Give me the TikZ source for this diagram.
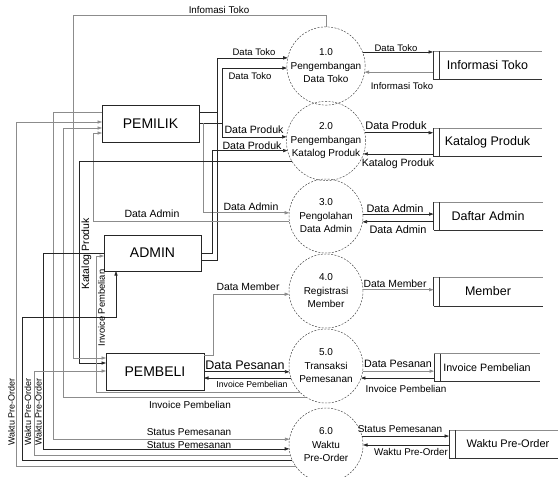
\documentclass[tikz,border=0pt]{standalone}
\usepackage{fontspec}
\setmainfont{Liberation Sans}
\usetikzlibrary{arrows.meta}
\tikzset{
  ent/.style={draw=black!85, line width=0.6pt, minimum width=97pt, minimum height=37pt, inner sep=0pt, outer sep=0pt, font=\fontsize{14}{16}\selectfont},
  proc/.style={circle, draw=black!75, dash pattern=on 2pt off 1.4pt, line width=0.45pt, minimum size=74pt, inner sep=0pt, outer sep=0pt, align=center, font=\fontsize{10}{13.5}\selectfont},
  store/.style={minimum width=109pt, minimum height=28pt, inner sep=0pt, outer sep=0pt, font=\fontsize{12.5}{14}\selectfont},
  wire/.style={line width=0.6pt, draw=black!85},
  flow/.style={wire, -{Triangle[length=4.5pt,width=3.2pt]}},
  light/.style={draw=black!45},
  lbl/.style={inner sep=0pt, font=\fontsize{#1}{#1}\selectfont},
  lbl/.default=10,
}
\begin{document}
\begin{tikzpicture}[x=1pt,y=-1pt]
\useasboundingbox (0,0) rectangle (558,477);
% processes
\node[proc] (c1) at (326,66) {1.0\\Pengembangan\\Data Toko};
\node[proc] (c2) at (326,141) {2.0\\Pengembangan\\Katalog Produk};
\node[proc] (c3) at (326,216) {3.0\\Pengolahan\\Data Admin};
\node[proc] (c4) at (326,291) {4.0\\Registrasi\\Member};
\node[proc] (c5) at (326,366) {5.0\\Transaksi\\Pemesanan};
\node[proc] (c6) at (326,445) {6.0\\Waktu\\Pre-Order};
% entities
\node[ent] (pemilik) at (150.5,123.5) {PEMILIK};
\node[ent, minimum height=36pt] (admin) at (152.5,253) {ADMIN};
\node[ent, minimum width=98pt] (pembeli) at (155,371.5) {PEMBELI};
% stores
\node[store] (s1) at (487.5,65) {Informasi Toko};
\node[store] (s2) at (487.5,142) {Katalog Produk};
\node[store] (s3) at (488,216) {Daftar Admin};
\node[store, minimum height=29pt] (s4) at (488,291.5) {Member};
\node[store, minimum width=106pt, font=\fontsize{10.7}{12}\selectfont] (s5) at (487,367.5) {Invoice Pembelian};
\node[store, font=\fontsize{11}{13}\selectfont] (s6) at (503.5,444) {\hspace*{9pt}Waktu Pre-Order};
\foreach \s in {s1,s2,s3,s4,s5,s6}{
  \draw[line width=0.6pt, black!45] (\s.north west) -- (\s.north east);
  \draw[line width=0.6pt, black!80] (\s.south west) -- (\s.south east);
  \draw[line width=0.6pt, black!80] (\s.north west) -- (\s.south west);
  \draw[line width=0.6pt, black!80] ([xshift=6pt]\s.north west) -- ([xshift=6pt]\s.south west);
}
% right side flows
\draw[flow] (c1.21) -- (c1.21 -| s1.west);
\draw[flow,light] (c1.351 -| s1.west) -- (c1.351);
\draw[flow] (c2.12) -- (c2.12 -| s2.west);
\draw[flow] (c2.341 -| s2.west) -- (c2.341);
\draw[flow] (c3.3) -- (c3.3 -| s3.west);
\draw[flow] (c3.351 -| s3.west) -- (c3.351);
\draw[flow,light] (c4.2) -- (c4.2 -| s4.west);
\draw[flow,light] (c5.352) -- (c5.352 -| s5.west);
\draw[flow] (c5.341 -| s5.west) -- (c5.341);
\draw[flow] (c6.14) -- (c6.14 -| s6.west);
\draw[flow] (c6.east -| s6.west) -- (c6.east);
% left side flows
\draw[flow] (admin.east |- 0,260) -| (c1.168 -| 217,0) -- (c1.168);
\draw[wire] (pemilik.east |- 0,112) -- (217,112);
\draw[wire] (pemilik.east |- 0,123) -- (222,123);
\draw[flow] (222,123) |- (c1.183);
\draw[flow] (222,123) |- (c2.174);
\draw[flow,light] (203,123) |- (c3.175);
\draw[flow] (admin.east |- 0,253) -| (c2.194 -| 212,0) -- (c2.194);
\draw[flow,light] (c3.188) -| (93,133) -- (pemilik.west |- 0,133);
\draw[flow] (c2.211) -| (79,363) -- (pembeli.west |- 0,363);
\draw[flow,light] (c1.north) |- (73,15) |- (pembeli.west |- 0,358);
\draw[flow,light] (pembeli.east |- 0,355) -| (c4.185 -| 213,0) -- (c4.185);
\draw[flow] (c5.189 -| pembeli.east) -- (c5.189);
\draw[flow] (c5.199) -- (c5.199 -| pembeli.east);
\draw[flow,light] (c5.225) -| (96,256) -- (admin.west |- 0,256);
\draw[flow,light] (c5.237) -| (63,128) -- (pemilik.west |- 0,128);
\draw[flow,light] (pemilik.west |- 0,112) -| (c6.171 -| 53,0) -- (c6.171);
\draw[flow] (admin.west |- 0,253) -| (c6.186 -| 43,0) -- (c6.186);
\draw[flow,light] (c6.196) -| (34,371) -- (pembeli.west |- 0,371);
\draw[flow] (c6.204) -| (22,317) -| (admin.south -| 116,0);
\draw[flow,light] (c6.215) -| (16,122) -- (pemilik.west |- 0,122);
% left labels
\node[lbl=9.8] at (219,10) {Infomasi Toko};
\node[lbl=9.5] at (254,52) {Data Toko};
\node[lbl=9.5] at (250,76) {Data Toko};
\node[lbl=10.6] at (254,130) {Data Produk};
\node[lbl=10.6] at (252,146) {Data Produk};
\node[lbl=10.5] at (251,207) {Data Admin};
\node[lbl=10.5] at (152,214) {Data Admin};
\node[lbl=10.4] at (248,287) {Data Member};
\node[lbl=12.5] at (245,365) {Data Pesanan};
\node[lbl=8.7] at (252,384) {Invoice Pembelian};
\node[lbl] at (190,405) {Invoice Pembelian};
\node[lbl] at (189,432) {Status Pemesanan};
\node[lbl] at (189,445) {Status Pemesanan};
\node[lbl=10.5, rotate=90] at (86.5,254) {Katalog Produk};
\node[lbl=9.4, rotate=90] at (101.5,308) {Invoice Pembelian};
\node[lbl=9, rotate=90] at (11.5,412) {Waktu Pre-Order};
\node[lbl=9, rotate=90] at (28,412) {Waktu Pre-Order};
\node[lbl=9, rotate=90] at (38.5,412) {Waktu Pre-Order};
% right labels
\node[lbl=9.5] at (396,48) {Data Toko};
\node[lbl=9.6] at (402,86) {Informasi Toko};
\node[lbl=11] at (396,126) {Data Produk};
\node[lbl=10.6] at (398,164) {Katalog Produk};
\node[lbl=10.9] at (395,209) {Data Admin};
\node[lbl=10.9] at (398,230) {Data Admin};
\node[lbl=10.4] at (395,284) {Data Member};
\node[lbl=10.7] at (398,364) {Data Pesanan};
\node[lbl=9.9] at (406,389) {Invoice Pembelian};
\node[lbl] at (400,429) {Status Pemesanan};
\node[lbl=9.8] at (411,452) {Waktu Pre-Order};
\end{tikzpicture}
\end{document}
